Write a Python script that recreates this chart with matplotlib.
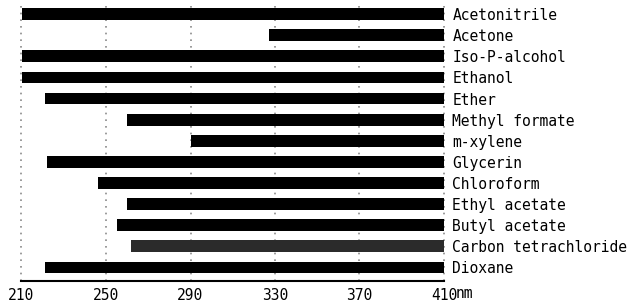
import matplotlib
matplotlib.use("Agg")
import matplotlib.pyplot as plt

solvents = ["Acetonitrile", "Acetone", "Iso-P-alcohol", "Ethanol", "Ether",
            "Methyl formate", "m-xylene", "Glycerin", "Chloroform",
            "Ethyl acetate", "Butyl acetate", "Carbon tetrachloride", "Dioxane"]
cutoff_start = [210, 327, 210, 210, 221, 260, 290, 222, 246, 260, 255, 262, 221]
range_end = [410] * len(solvents)
bar_colors = ["black"] * 11 + ["#2b2b2b", "black"]
xticks = [210, 250, 290, 330, 370, 410]
xticklabels = ["210", "250", "290", "330", "370", "410"]

fig = plt.figure(figsize=(6.4, 3.05), dpi=100)
ax = fig.add_axes([21.5 / 640, 1 - 281 / 305, (444 - 21.5) / 640, (281 - 3.5) / 305])

font = "DejaVu Sans Mono"
ys = list(range(len(solvents)))
widths = [e - s for s, e in zip(cutoff_start, range_end)]
ax.barh(ys, widths, left=cutoff_start, height=0.56, color=bar_colors, zorder=2)

for x in xticks:
    ax.axvline(x, color="#8a8a8a", linestyle=(0, (1, 3)), linewidth=1.2,
               zorder=1, clip_on=False)

ax.set_xlim(210, 410)
ax.set_ylim(12.64, -0.5)
ax.set_xticks(xticks)
ax.set_xticklabels(xticklabels, fontfamily=font, fontsize=10.5)
ax.tick_params(axis="x", length=0, pad=5)

ax.yaxis.tick_right()
ax.set_yticks(ys)
ax.set_yticklabels(solvents, fontfamily=font, fontsize=10.5)
ax.tick_params(axis="y", length=0, pad=6)

for s in ["top", "left", "right"]:
    ax.spines[s].set_visible(False)
ax.spines["bottom"].set_linewidth(1.5)
ax.spines["bottom"].set_zorder(3)

ax.annotate("nm", xy=(410, 0), xycoords=("data", "axes fraction"),
            xytext=(12, -5), textcoords="offset pixels",
            ha="left", va="top", fontfamily=font, fontsize=10.5)

fig.savefig("out.png", dpi=100)
